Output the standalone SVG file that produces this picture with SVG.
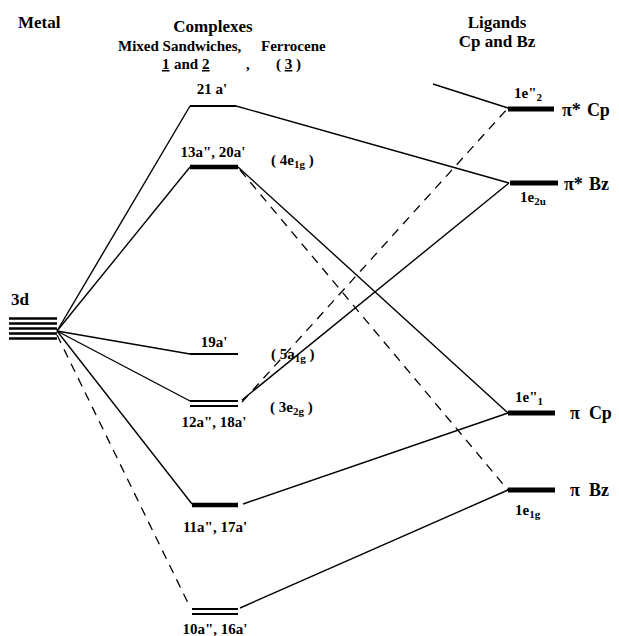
<svg xmlns="http://www.w3.org/2000/svg" width="619" height="636" viewBox="0 0 619 636">
<style>
text{font-family:"Liberation Serif","Times New Roman",serif;font-weight:bold;fill:#000;font-size:15px}
.h{font-size:17px}
.s{font-size:15px}
.sub{font-size:11px}
.pl{font-size:18px}
.lv{stroke:#000;fill:none}
.c{stroke:#000;stroke-width:1.4;fill:none}
.d{stroke:#000;stroke-width:1.3;fill:none;stroke-dasharray:9 7}
</style>
<rect width="619" height="636" fill="#fff"/>
<g id="headers">
<text x="18" y="28" class="h">Metal</text>
<text x="213" y="32" text-anchor="middle" class="h">Complexes</text>
<text x="118" y="51" class="s">Mixed Sandwiches,</text>
<text x="261" y="51" class="s">Ferrocene</text>
<text x="162" y="69" class="s" text-decoration="underline">1</text>
<text x="174" y="69" class="s">and</text>
<text x="202" y="69" class="s" text-decoration="underline">2</text>
<text x="246" y="69" class="s">,</text>
<text x="276" y="69" class="s">( <tspan text-decoration="underline">3</tspan> )</text>
<text x="497" y="28" text-anchor="middle" class="h">Ligands</text>
<text x="497" y="47" text-anchor="middle" class="h">Cp and Bz</text>
</g>
<g id="connectors">
<path class="c" d="M57 331 L190 106"/>
<path class="c" d="M57 331 L190 167"/>
<path class="c" d="M57 331 L190 354"/>
<path class="c" d="M57 331 L190 401"/>
<path class="c" d="M57 331 L192 504"/>
<path class="d" d="M57 335 L190 607"/>
<path class="c" d="M236 106 L509 183"/>
<path class="c" d="M238 167 L508 413"/>
<path class="d" d="M240 170 L508 490"/>
<path class="c" d="M242 400 L509 183"/>
<path class="d" d="M242 402 L508 108"/>
<path class="c" d="M243 504 L508 413"/>
<path class="c" d="M240 608 L508 490"/>
<path class="c" d="M433 84 L508 108"/>
</g>
<g id="metal-3d">
<text x="11" y="305" class="h">3d</text>
<path class="lv" stroke-width="2.6" d="M9 318.5H57M9 323.5H57M9 328.5H57M9 333.5H57M9 338.5H57"/>
</g>
<g id="mo-21a">
<path class="lv" stroke-width="2.2" d="M190 106H236"/>
<text x="212" y="94" class="s" text-anchor="middle">21 a'</text>
</g>
<g id="mo-13a">
<path class="lv" stroke-width="4.5" d="M190 167H238"/>
<text x="213" y="157" class="s" text-anchor="middle">13a", 20a'</text>
<text x="271" y="165" class="s">( 4e<tspan class="sub" dy="3">1g</tspan><tspan dy="-3"> )</tspan></text>
</g>
<g id="mo-19a">
<path class="lv" stroke-width="2.2" d="M190 354H238"/>
<text x="214" y="347" class="s" text-anchor="middle">19a'</text>
</g>
<g id="mo-12a">
<path class="lv" stroke-width="2.2" d="M190 401H238M190 406H238"/>
<text x="214" y="427" class="s" text-anchor="middle">12a", 18a'</text>
<text x="271" y="359" class="s">( 5a<tspan class="sub" dy="3">1g</tspan><tspan dy="-3"> )</tspan></text>
<text x="270" y="412" class="s">( 3e<tspan class="sub" dy="3">2g</tspan><tspan dy="-3"> )</tspan></text>
</g>
<g id="mo-11a">
<path class="lv" stroke-width="4.5" d="M192 505H238"/>
<text x="215" y="532" class="s" text-anchor="middle">11a", 17a'</text>
</g>
<g id="mo-10a">
<path class="lv" stroke-width="2.2" d="M192 609H238M192 614H238"/>
<text x="215" y="634" class="s" text-anchor="middle">10a", 16a'</text>
</g>
<g id="lig-pistar-cp">
<path class="lv" stroke-width="5" d="M508 109H554"/>
<text x="514" y="98" class="s">1e"<tspan class="sub" dy="3">2</tspan></text>
<text x="562" y="116" class="pl">π*<tspan dx="6">Cp</tspan></text>
</g>
<g id="lig-pistar-bz">
<path class="lv" stroke-width="5" d="M510 183H558"/>
<text x="564" y="190" class="pl">π*<tspan dx="6">Bz</tspan></text>
<text x="520" y="202" class="s">1e<tspan class="sub" dy="3">2u</tspan></text>
</g>
<g id="lig-pi-cp">
<path class="lv" stroke-width="5" d="M508 413H555"/>
<text x="515" y="402" class="s">1e"<tspan class="sub" dy="3">1</tspan></text>
<text x="570" y="419" class="pl">π<tspan dx="9">Cp</tspan></text>
</g>
<g id="lig-pi-bz">
<path class="lv" stroke-width="5" d="M508 490H555"/>
<text x="515" y="515" class="s">1e<tspan class="sub" dy="3">1g</tspan></text>
<text x="570" y="496" class="pl">π<tspan dx="9">Bz</tspan></text>
</g>
</svg>
